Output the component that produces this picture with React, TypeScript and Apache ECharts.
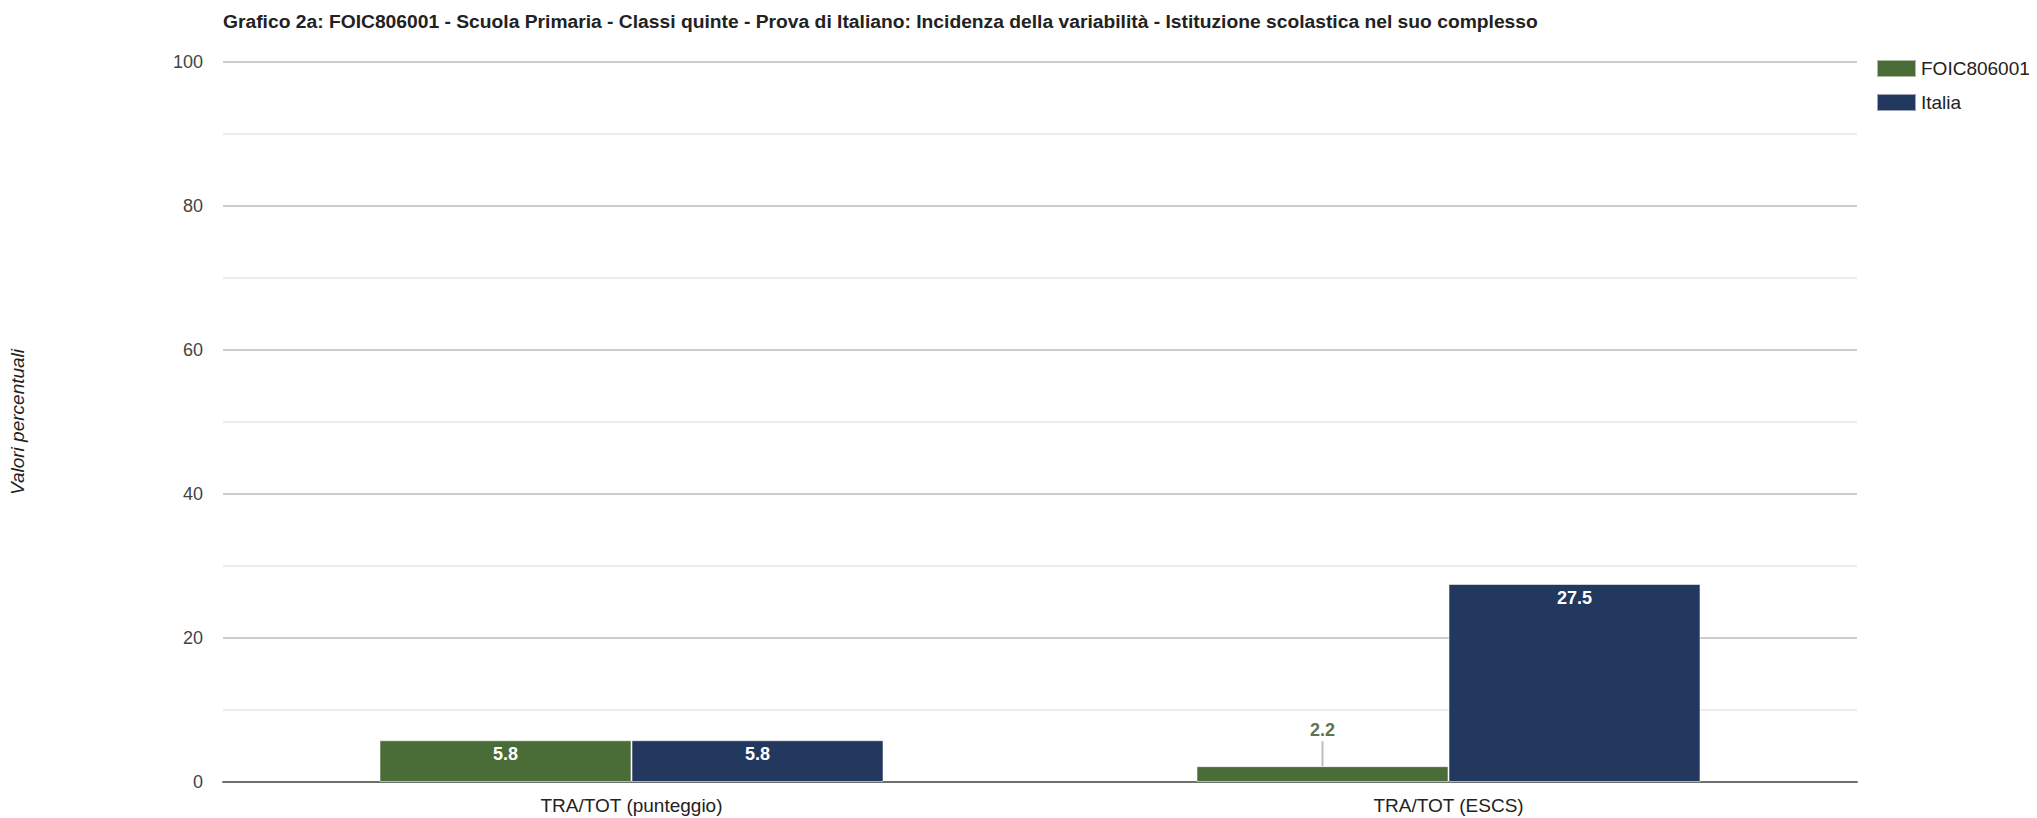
import React, { useEffect, useRef } from "react";
import * as echarts from "echarts";

const titleText =
  "Grafico 2a: FOIC806001 - Scuola Primaria - Classi quinte - Prova di Italiano: Incidenza della variabilità - Istituzione scolastica nel suo complesso";
const categories = ["TRA/TOT (punteggio)", "TRA/TOT (ESCS)"];
const seriesNames = ["FOIC806001", "Italia"];
const schoolValues = [5.8, 2.2];
const italyValues = [5.8, 27.5];
const yAxisName = "Valori percentuali";

const FONT = "'Liberation Sans', Arial, sans-serif";
const GREEN = "#4a6c36";
const NAVY = "#22385e";

function buildData(values: number[]) {
  return values.map((v) => {
    if (v < 4) {
      return {
        value: v,
        label: {
          show: true,
          position: "top",
          distance: 0,
          formatter: "{v|" + v.toFixed(1) + "}\n{l|}",
          rich: {
            v: { color: "#5f7352", fontSize: 18, fontFamily: FONT, lineHeight: 22 },
            l: { width: 2, height: 25, backgroundColor: "#bdbdbd" },
          },
        },
      };
    }
    return { value: v };
  });
}

export default function App() {
  const ref = useRef<HTMLDivElement>(null);
  useEffect(() => {
    if (!ref.current) return;
    const chart = echarts.init(ref.current, undefined, { renderer: "svg" });
    const barLabel = {
      show: true,
      position: "insideTop",
      distance: 5,
      color: "#ffffff",
      fontSize: 18,
      fontWeight: "bold",
      fontFamily: FONT,
      formatter: (p: any) => Number(p.value).toFixed(1),
    };
    chart.setOption({
      animation: false,
      backgroundColor: "#ffffff",
      textStyle: { fontFamily: FONT },
      title: {
        text: titleText,
        left: 218,
        top: 7,
        textStyle: { fontSize: 19.25, fontWeight: "bold", color: "#222", fontFamily: FONT },
      },
      legend: {
        data: seriesNames,
        orient: "vertical",
        left: 1871,
        top: 54,
        itemWidth: 39,
        itemHeight: 17,
        itemGap: 15,
        icon: "rect",
        textStyle: { fontSize: 19, color: "#222", fontFamily: FONT },
      },
      grid: { left: 223, right: 180, top: 62, bottom: 36, containLabel: false },
      xAxis: {
        type: "category",
        data: categories,
        axisTick: { show: false },
        axisLine: { show: true, lineStyle: { color: "#6e6e6e", width: 2 } },
        axisLabel: { color: "#222", fontSize: 19, margin: 14, fontFamily: FONT },
        splitLine: { show: false },
      },
      yAxis: {
        type: "value",
        min: 0,
        max: 100,
        interval: 20,
        name: yAxisName,
        nameLocation: "middle",
        nameGap: 196,
        nameRotate: 90,
        nameTextStyle: { fontSize: 19, fontStyle: "italic", color: "#222", fontFamily: FONT },
        axisLine: { show: false },
        axisTick: { show: false },
        axisLabel: { color: "#444", fontSize: 18, margin: 20, fontFamily: FONT },
        splitLine: { show: true, lineStyle: { color: "#cccccc", width: 2 } },
        minorTick: { show: false, splitNumber: 2 },
        minorSplitLine: { show: true, lineStyle: { color: "#ebebeb", width: 2 } },
      },
      series: [
        {
          name: seriesNames[0],
          type: "bar",
          barWidth: 252,
          barGap: "0%",
          itemStyle: { color: GREEN, borderColor: "rgba(255,255,255,0.55)", borderWidth: 1 },
          label: barLabel,
          data: buildData(schoolValues),
        },
        {
          name: seriesNames[1],
          type: "bar",
          barWidth: 252,
          barGap: "0%",
          itemStyle: { color: NAVY, borderColor: "rgba(255,255,255,0.55)", borderWidth: 1 },
          label: barLabel,
          data: buildData(italyValues),
        },
      ],
    });
    return () => chart.dispose();
  }, []);
  return (
    <div
      ref={ref}
      style={{ position: "fixed", left: 0, top: 0, width: 2037, height: 818, background: "#fff" }}
    />
  );
}
